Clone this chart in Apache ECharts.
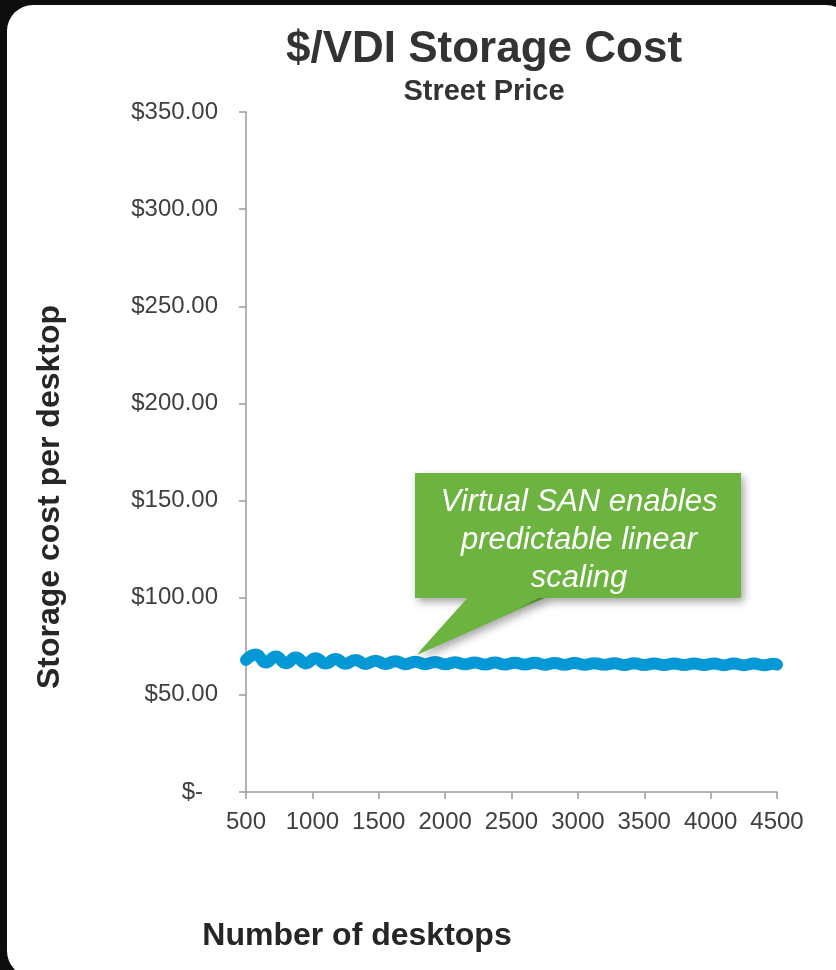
<!DOCTYPE html>
<html lang="en">
<head>
    <meta charset="UTF-8"/>
    <title>$/VDI Storage Cost</title>
    <script src="https://cdn.jsdelivr.net/npm/echarts@6/dist/echarts.min.js"></script>
    <style>
        html, body { margin: 0; padding: 0; background: #0d0d0d; }
        #chart { width: 836px; height: 970px; }
    </style>
</head>
<body>
<div id="chart"></div>
<script type="text/javascript">
    // desktops (x) and storage cost per desktop (y)
    var desktops = [500, 575, 650, 725, 800, 875, 950, 1025, 1100, 1175, 1250, 1325, 1400, 1475,
        1550, 1625, 1700, 1775, 1850, 1925, 2000, 2075, 2150, 2225, 2300, 2375, 2450, 2525,
        2600, 2675, 2750, 2825, 2900, 2975, 3050, 3125, 3200, 3275, 3350, 3425, 3500, 3575,
        3650, 3725, 3800, 3875, 3950, 4025, 4100, 4175, 4250, 4325, 4400, 4475, 4500];
    var costs = [68.0, 70.8, 66.6, 69.8, 66.3, 69.2, 66.2, 68.8, 66.1, 68.4, 66.0, 68.0, 65.9, 67.6,
        65.9, 67.3, 65.8, 67.1, 65.8, 66.9, 65.7, 66.8, 65.7, 66.7, 65.6, 66.6, 65.6, 66.5,
        65.6, 66.5, 65.5, 66.4, 65.5, 66.4, 65.5, 66.3, 65.5, 66.3, 65.4, 66.3, 65.4, 66.2,
        65.4, 66.2, 65.4, 66.2, 65.4, 66.1, 65.3, 66.1, 65.3, 66.1, 65.3, 66.0, 65.6];
    var xTicks = [500, 1000, 1500, 2000, 2500, 3000, 3500, 4000, 4500];
    var yTicks = [0, 50, 100, 150, 200, 250, 300, 350];

    var FONT = 'Arial';

    var chart = echarts.init(document.getElementById('chart'));

    var option = {
        backgroundColor: '#0d0d0d',
        animation: false,
        graphic: [
            {   // white panel
                type: 'rect', z: -10, silent: true,
                shape: { x: 7, y: 5, width: 845, height: 972, r: 26 },
                style: { fill: '#ffffff' }
            },
            {   // callout tail
                type: 'polygon', z: 20,
                shape: { points: [[470, 596], [549, 596], [417, 655]] },
                style: { fill: '#6db33f', shadowBlur: 8, shadowOffsetX: 3, shadowOffsetY: 4, shadowColor: 'rgba(0,0,0,0.35)' }
            },
            {   // callout box
                type: 'rect', z: 21,
                shape: { x: 415, y: 473, width: 326, height: 125 },
                style: { fill: '#6db33f', shadowBlur: 8, shadowOffsetX: 3, shadowOffsetY: 4, shadowColor: 'rgba(0,0,0,0.35)' }
            },
            {
                type: 'polygon', z: 22,
                shape: { points: [[471, 594], [548, 594], [419, 652]] },
                style: { fill: '#6db33f' }
            },
            {
                type: 'text', z: 23,
                x: 579, y: 540,
                style: {
                    text: 'Virtual SAN enables\npredictable linear\nscaling',
                    fill: '#ffffff',
                    font: 'italic 31px Arial',
                    lineHeight: 38,
                    align: 'center',
                    verticalAlign: 'middle'
                }
            }
        ],
        title: {
            text: '$/VDI Storage Cost',
            subtext: 'Street Price',
            left: 479,
            textAlign: 'center',
            top: 23,
            itemGap: 5,
            textStyle: { fontFamily: FONT, fontWeight: 'bold', fontSize: 44, color: '#333333' },
            subtextStyle: { fontFamily: FONT, fontWeight: 'bold', fontSize: 29, color: '#333333' }
        },
        grid: { left: 246, right: 59, top: 112, bottom: 178 },
        xAxis: {
            type: 'value',
            min: 500,
            max: 4500,
            interval: 500,
            name: 'Number of desktops',
            nameLocation: 'middle',
            nameGap: 128,
            nameTextStyle: { fontFamily: FONT, fontWeight: 'bold', fontSize: 32, color: '#262626', padding: [0, 309, 0, 0] },
            axisLine: { show: true, lineStyle: { color: '#9a9a9a', width: 1.5 } },
            axisTick: { show: true, length: 7, lineStyle: { color: '#9a9a9a', width: 1.5 } },
            axisLabel: {
                margin: 18,
                fontFamily: FONT, fontSize: 24, color: '#404040',
                customValues: xTicks,
                formatter: function (v) { return String(v); }
            },
            splitLine: { show: false }
        },
        yAxis: {
            type: 'value',
            min: 0,
            max: 350,
            interval: 50,
            name: 'Storage cost per desktop',
            nameLocation: 'middle',
            nameGap: 180,
            nameTextStyle: { fontFamily: FONT, fontWeight: 'bold', fontSize: 32, color: '#262626', padding: [0, 90, 0, 0] },
            axisLine: { show: true, lineStyle: { color: '#9a9a9a', width: 1.5 } },
            axisTick: { show: true, length: 7, lineStyle: { color: '#9a9a9a', width: 1.5 } },
            axisLabel: {
                margin: 28,
                fontFamily: FONT, fontSize: 24, color: '#404040',
                customValues: yTicks,
                formatter: function (v) {
                    return v === 0 ? '{z|$-}' : '$' + v.toFixed(2);
                },
                rich: {
                    z: { fontFamily: FONT, fontSize: 24, color: '#404040', padding: [0, 15, 0, 0] }
                }
            },
            splitLine: { show: false }
        },
        series: [{
            type: 'line',
            data: desktops.map(function (d, i) { return [d, costs[i]]; }),
            smooth: 0.5,
            showSymbol: false,
            lineStyle: { color: '#0598d6', width: 12, cap: 'round', join: 'round' },
            z: 5
        }]
    };

    chart.setOption(option);
</script>
</body>
</html>
